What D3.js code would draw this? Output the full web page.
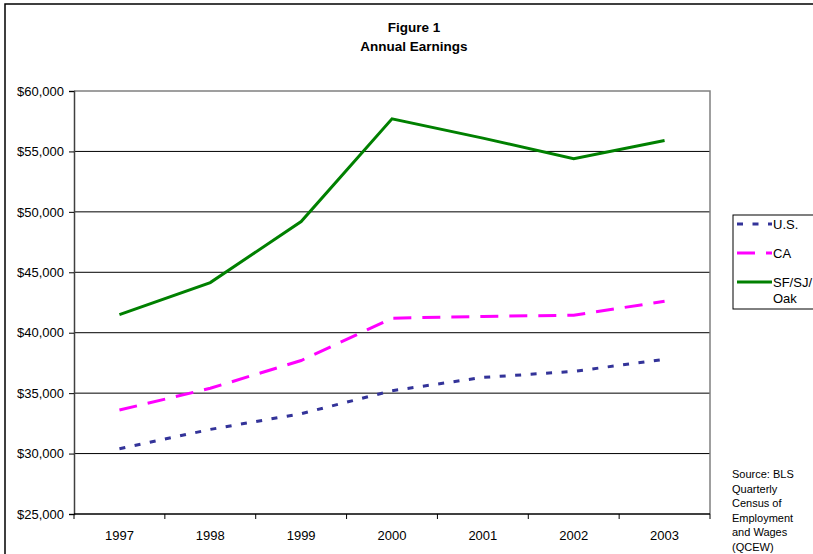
<!DOCTYPE html>
<html>
<head>
<meta charset="utf-8">
<script src="https://cdn.jsdelivr.net/npm/d3@7"></script>
<style>
  body { margin: 0; background: #fff; }
  svg { display: block; font-family: "Liberation Sans", Arial, sans-serif; }
</style>
</head>
<body>
<svg width="813" height="554"></svg>
<script>
// data
var years = ["1997", "1998", "1999", "2000", "2001", "2002", "2003"];
var usValues = [30400, 32000, 33300, 35200, 36300, 36800, 37800];
var caValues = [33600, 35400, 37700, 41200, 41350, 41450, 42600];
var sfValues = [41500, 44150, 49200, 57700, 56100, 54400, 55900];
var yTicks = [25000, 30000, 35000, 40000, 45000, 50000, 55000, 60000];
var sourceLines = ["Source: BLS", "Quarterly", "Census of", "Employment", "and Wages", "(QCEW)"];

var series = [
  {name: ["U.S."], values: usValues, color: "#333399", dash: "6,9.5"},
  {name: ["CA"], values: caValues, color: "#ff00ff", dash: "18,11"},
  {name: ["SF/SJ/", "Oak"], values: sfValues, color: "#008000", dash: null}
];

var svg = d3.select("svg");

// outer chart frame
svg.append("rect")
  .attr("x", 5).attr("y", 4)
  .attr("width", 900).attr("height", 700)
  .attr("fill", "#fff")
  .attr("stroke", "#000")
  .attr("stroke-width", 1.5);

// titles
svg.append("text")
  .attr("x", 414).attr("y", 32)
  .attr("text-anchor", "middle")
  .attr("font-weight", "bold")
  .attr("font-size", 13.5)
  .text("Figure 1");
svg.append("text")
  .attr("x", 414).attr("y", 51)
  .attr("text-anchor", "middle")
  .attr("font-weight", "bold")
  .attr("font-size", 13.5)
  .text("Annual Earnings");

// plot area (note: "top" is reserved on window)
var plotLeft = 74, plotRight = 710, plotTop = 91, plotBottom = 514;

var x = d3.scaleBand().domain(years).range([plotLeft, plotRight]);
var y = d3.scaleLinear().domain([25000, 60000]).range([plotBottom, plotTop]);

// gridlines
svg.append("g")
  .selectAll("line")
  .data(yTicks.filter(function(d){ return d > 25000 && d < 60000; }))
  .enter().append("line")
  .attr("x1", plotLeft).attr("x2", plotRight)
  .attr("y1", function(d){ return y(d); })
  .attr("y2", function(d){ return y(d); })
  .attr("stroke", "#000")
  .attr("stroke-width", 1);

// plot area border (top and right, gray)
svg.append("path")
  .attr("d", "M" + plotLeft + "," + plotTop + "H" + plotRight + "V" + plotBottom)
  .attr("fill", "none")
  .attr("stroke", "#808080")
  .attr("stroke-width", 1.5);

// y axis
var yAxis = d3.axisLeft(y)
  .tickValues(yTicks)
  .tickSize(5)
  .tickPadding(5)
  .tickFormat(function(d){ return "$" + d3.format(",")(d); });
var gy = svg.append("g")
  .attr("transform", "translate(" + plotLeft + ",0)")
  .call(yAxis);
gy.select(".domain").attr("stroke", "#404040").attr("stroke-width", 1.5);
gy.selectAll(".tick line").attr("stroke", "#000");
gy.selectAll("text")
  .attr("font-size", 13)
  .attr("font-family", "Liberation Sans, Arial, sans-serif")
  .attr("fill", "#000");

// x axis: ticks on category boundaries
var gx = svg.append("g")
  .attr("transform", "translate(0," + plotBottom + ")");
gx.append("line")
  .attr("x1", plotLeft).attr("x2", plotRight)
  .attr("stroke", "#000").attr("stroke-width", 1.5);
gx.selectAll(".bt")
  .data(years.concat(["end"]))
  .enter().append("line")
  .attr("class", "bt")
  .attr("x1", function(d, i){ return plotLeft + i * x.bandwidth(); })
  .attr("x2", function(d, i){ return plotLeft + i * x.bandwidth(); })
  .attr("y1", 0).attr("y2", 5)
  .attr("stroke", "#000");
gx.selectAll("text")
  .data(years)
  .enter().append("text")
  .attr("x", function(d){ return x(d) + x.bandwidth() / 2; })
  .attr("y", 26)
  .attr("text-anchor", "middle")
  .attr("font-size", 13)
  .text(function(d){ return d; });

// lines
var line = d3.line()
  .x(function(d, i){ return x(years[i]) + x.bandwidth() / 2; })
  .y(function(d){ return y(d); });

series.forEach(function(s){
  svg.append("path")
    .datum(s.values)
    .attr("d", line)
    .attr("fill", "none")
    .attr("stroke", s.color)
    .attr("stroke-width", 3)
    .attr("stroke-dasharray", s.dash);
});

// legend
var lg = svg.append("g").attr("transform", "translate(733,215)");
lg.append("rect")
  .attr("width", 100).attr("height", 94)
  .attr("fill", "#fff")
  .attr("stroke", "#000")
  .attr("stroke-width", 1);
series.forEach(function(s, i){
  var ly = 9 + i * 29;
  lg.append("line")
    .attr("x1", 4).attr("x2", 39)
    .attr("y1", ly).attr("y2", ly)
    .attr("stroke", s.color)
    .attr("stroke-width", 3)
    .attr("stroke-dasharray", s.dash);
  s.name.forEach(function(t, j){
    lg.append("text")
      .attr("x", 40)
      .attr("y", ly + 4.5 + j * 16)
      .attr("font-size", 13)
      .text(t);
  });
});

// source note
svg.append("g")
  .selectAll("text")
  .data(sourceLines)
  .enter().append("text")
  .attr("x", 732)
  .attr("y", function(d, i){ return 478 + i * 14.5; })
  .attr("font-size", 11)
  .text(function(d){ return d; });
</script>
</body>
</html>
